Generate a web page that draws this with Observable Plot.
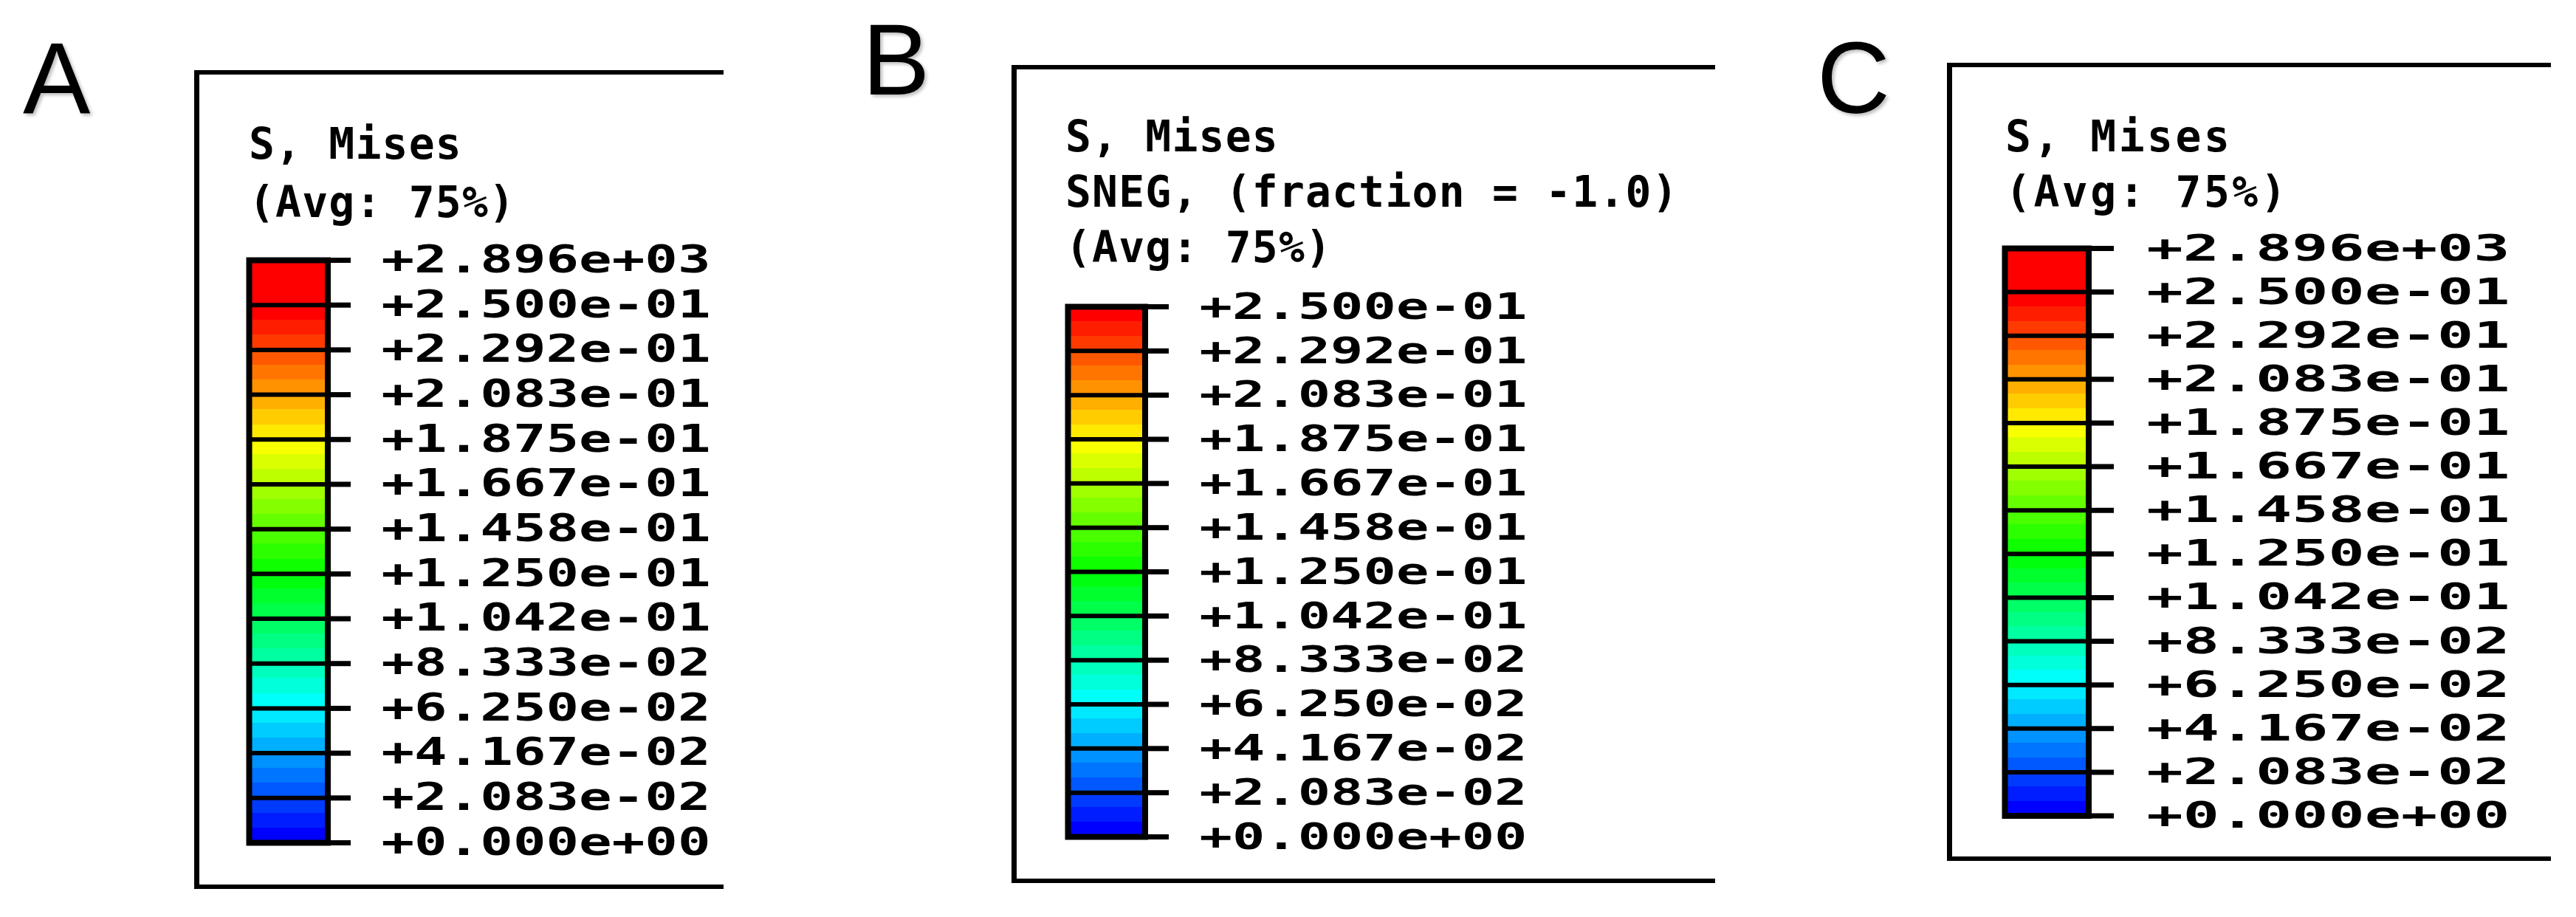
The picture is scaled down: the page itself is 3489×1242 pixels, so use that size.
<!DOCTYPE html>
<html><head><meta charset="utf-8">
<script src="https://cdn.jsdelivr.net/npm/d3@7"></script>
<script src="https://cdn.jsdelivr.net/npm/@observablehq/plot@0.6"></script>
<style>
html,body{margin:0;padding:0;background:#fff;}
#root{position:relative;width:3489px;height:1242px;overflow:hidden;background:#fff;}
.letter{position:absolute;font-family:"Liberation Sans",Arial,sans-serif;font-size:137px;line-height:137px;color:#000;text-shadow:3px 3px 4px rgba(0,0,0,0.25);}
.box{position:absolute;border-left:7px solid #000;border-top:6px solid #000;border-bottom:6px solid #000;box-sizing:border-box;}
.title{position:absolute;font-family:"DejaVu Sans Mono",monospace;font-weight:bold;font-size:58px;line-height:58px;white-space:pre;color:#000;}
.bar{position:absolute;}
.bar svg{overflow:visible;}
.bar svg [aria-label="y-axis tick"]{stroke-width:7px;}
</style></head><body><div id="root"></div><script>
// ---- data ----
const panelLetters = ["A", "B", "C"];
const titleA = ["S, Mises", "(Avg: 75%)"];
const titleB = ["S, Mises", "SNEG, (fraction = -1.0)", "(Avg: 75%)"];
const titleC = ["S, Mises", "(Avg: 75%)"];
// tick labels, top to bottom
const labelsAC = ["+2.896e+03", "+2.500e-01", "+2.292e-01", "+2.083e-01", "+1.875e-01", "+1.667e-01",
  "+1.458e-01", "+1.250e-01", "+1.042e-01", "+8.333e-02", "+6.250e-02", "+4.167e-02", "+2.083e-02", "+0.000e+00"];
const labelsB = ["+2.500e-01", "+2.292e-01", "+2.083e-01", "+1.875e-01", "+1.667e-01",
  "+1.458e-01", "+1.250e-01", "+1.042e-01", "+8.333e-02", "+6.250e-02", "+4.167e-02", "+2.083e-02", "+0.000e+00"];
// band shading (three sub-stripes each, top to bottom), bands listed top to bottom
const bandColors = [
  ["#FF0000", "#FF0000", "#FF0000"],
  ["#FF0000", "#FF1D00", "#FF3A00"],
  ["#FF5800", "#FF7500", "#FF9200"],
  ["#FFAF00", "#FFCC00", "#FFE900"],
  ["#F8FF00", "#DAFF00", "#BEFF00"],
  ["#A0FF00", "#83FF00", "#66FF00"],
  ["#49FF00", "#2CFF00", "#0FFF00"],
  ["#00FF0F", "#00FF2C", "#00FF49"],
  ["#00FF66", "#00FF83", "#00FFA0"],
  ["#00FFBE", "#00FFDA", "#00FFF8"],
  ["#00E9FF", "#00CCFF", "#00AFFF"],
  ["#0092FF", "#0075FF", "#0058FF"],
  ["#003AFF", "#001DFF", "#0000FF"]
];

// ---- layout ----
const panels = [
  {letter: panelLetters[0], lx: 31, lbase: 153.5, lsb: 0,
   box: {l: 266, t: 98, b: 1201, r: 980},
   title: titleA, tx: 342, tbase: [215, 294], tspace: 1.2,
   bar: {l: 337, r: 443.5, t: 352, b: 1141}, tickEnd: 474, labelX: 519, labels: labelsAC,
   fs: 51, textLen: 446},
  {letter: panelLetters[1], lx: 1179, lbase: 127.5, lsb: 11,
   box: {l: 1373, t: 90.5, b: 1193, r: 2323},
   title: titleB, tx: 1448, tbase: [205, 280, 355], tspace: 1.2,
   bar: {l: 1446, r: 1550.5, t: 415, b: 1133}, tickEnd: 1582, labelX: 1627, labels: labelsB,
   fs: 50.5, textLen: 444},
  {letter: panelLetters[2], lx: 2468, lbase: 153, lsb: 7,
   box: {l: 2640, t: 88, b: 1163, r: 3455},
   title: titleC, tx: 2721, tbase: [205, 280], tspace: 3.5,
   bar: {l: 2715, r: 2828.5, t: 335.5, b: 1104}, tickEnd: 2862, labelX: 2910, labels: labelsAC,
   fs: 50, textLen: 492}
];

const root = document.getElementById("root");
function div(cls, css, text) {
  const d = document.createElement("div");
  d.className = cls;
  Object.assign(d.style, css);
  if (text != null) d.textContent = text;
  root.appendChild(d);
  return d;
}

for (const p of panels) {
  // panel letter
  div("letter", {left: (p.lx - p.lsb) + "px", top: (p.lbase - 116) + "px"}, p.letter);
  // legend box (open on the right)
  div("box", {left: (p.box.l - 3.5) + "px", top: (p.box.t - 3) + "px",
    width: (p.box.r - p.box.l + 3.5) + "px", height: (p.box.b - p.box.t + 6) + "px"});
  // title lines
  p.title.forEach((t, i) => div("title", {left: (p.tx - 5) + "px", top: (p.tbase[i] - 49) + "px",
    letterSpacing: p.tspace + "px"}, t));

  // colour bar
  const labels = p.labels;
  const n = labels.length - 1;                     // number of bands
  const bands = bandColors.slice(bandColors.length - n);
  const stripes = bands.flatMap((cols, bTop) => cols.map((c, s) => ({
    y1: n - bTop - (s + 1) / 3, y2: n - bTop - s / 3, color: c
  })));
  const ticks = d3.range(n + 1);
  const m = 12;
  const barW = p.bar.r - p.bar.l, barH = p.bar.b - p.bar.t;
  const tickSize = p.tickEnd - p.bar.r;
  const tickPadding = (p.labelX - 3) - p.tickEnd;
  const mr = tickSize + tickPadding + 520;

  const chart = Plot.plot({
    width: barW + m + mr,
    height: barH + 2 * m,
    marginLeft: m, marginRight: mr, marginTop: m, marginBottom: m,
    x: {domain: [0, 1], axis: null},
    y: {domain: [0, n]},
    color: {type: "identity"},
    style: {fontFamily: "DejaVu Sans Mono", fontSize: p.fs + "px", fontWeight: "bold", background: "transparent", overflow: "visible", color: "#000"},
    marks: [
      Plot.rect(stripes, {x1: 0, x2: 1, y1: "y1", y2: "y2", fill: "color", shapeRendering: "crispEdges"}),
      Plot.ruleY(ticks.slice(1, -1), {stroke: "#000", strokeWidth: 6}),
      Plot.frame({stroke: "#000", strokeWidth: 8}),
      Plot.axisY({ticks, anchor: "right", tickSize, tickPadding, strokeWidth: 7,
        tickFormat: (i) => labels[n - i], label: null,
        fontSize: p.fs, fontWeight: "bold", fontFamily: "DejaVu Sans Mono", fill: "#000"})
    ]
  });
  // widen the glyphs like the wide legend font of the original
  chart.querySelectorAll('g[aria-label="y-axis tick label"] text').forEach((t) => {
    t.setAttribute("textLength", p.textLen);
    t.setAttribute("lengthAdjust", "spacingAndGlyphs");
  });
  const holder = div("bar", {left: (p.bar.l - m) + "px", top: (p.bar.t - m) + "px"});
  holder.appendChild(chart);
}
</script></body></html>
